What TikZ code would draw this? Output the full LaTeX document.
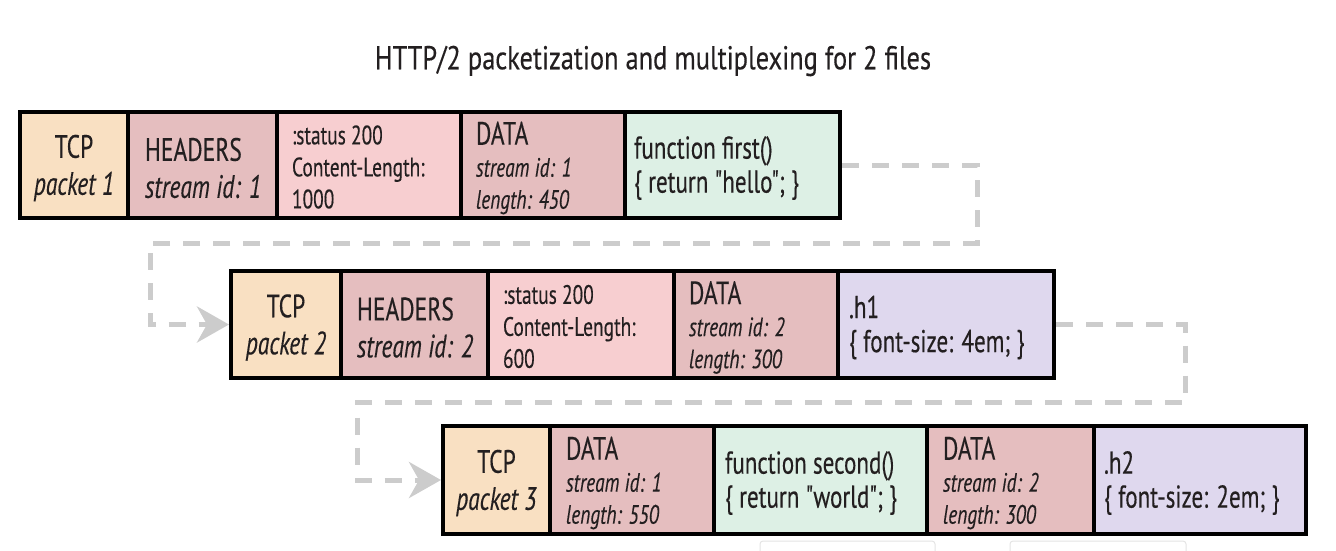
\documentclass[tikz,border=0pt]{standalone}
\usepackage{fontspec}
\setmainfont{PT Sans}[FakeStretch=0.8, FakeBold=0.3, Ligatures=TeXOff]
\newfontfamily\cellfam{PT Sans}[FakeStretch=0.73, FakeBold=0.3, Ligatures=TeXOff]
\usetikzlibrary{arrows.meta}
\definecolor{tcpc}{HTML}{F9E0C2}
\definecolor{hdrc}{HTML}{E5BEBF}
\definecolor{statc}{HTML}{F7CED0}
\definecolor{jsc}{HTML}{DDF0E5}
\definecolor{cssc}{HTML}{DFD8EE}
\definecolor{connc}{HTML}{CCCCCC}
\definecolor{txtc}{HTML}{231F20}
\definecolor{faintc}{HTML}{E4E4E4}
\newcommand\bigf{\cellfam\fontsize{32.3}{37}\selectfont}
\newcommand\smf{\cellfam\fontsize{26.6}{32}\selectfont}
\newcommand\midf{\cellfam\fontsize{31.6}{34}\selectfont}
\begin{document}
\begin{tikzpicture}[x=1pt,y=-1pt,
  rowbox/.style={fill=black, inner sep=0pt, outer sep=0pt, anchor=north west},
  cellbox/.style={inner sep=0pt, outer sep=0pt, anchor=north west, minimum height=102pt},
  lbl/.style={inner sep=0pt, outer sep=0pt, text=txtc, anchor=west, align=left},
  clbl/.style={inner sep=0pt, outer sep=0pt, text=txtc, align=center, font=\bigf},
  conn/.style={draw=connc, line width=5pt, dash pattern=on 17pt off 13pt,
    -{Stealth[length=32pt,width=36pt,inset=10pt]}},
  faint/.style={draw=faintc, line width=1pt, rounded corners=3pt}]
\useasboundingbox (0,0) rectangle (1336,550);

\node[text=txtc] (title) at (653,61) {\fontsize{33}{38}\selectfont HTTP/2 packetization and multiplexing for 2 files};

\coordinate (k1a) at (977,243);
\coordinate (k1b) at (150,243);
\coordinate (k2a) at (1185,402);
\coordinate (k2b) at (357,402);

% Row 1
\node[rowbox, minimum width=824pt, minimum height=110pt] (r1) at (18,110) {};
\node[cellbox, fill=tcpc, minimum width=104pt] (a1) at (22,114) {};
\node[cellbox, fill=hdrc, minimum width=145pt] (a2) at (130,114) {};
\node[cellbox, fill=statc, minimum width=180pt] (a3) at (279,114) {};
\node[cellbox, fill=hdrc, minimum width=160pt] (a4) at (463,114) {};
\node[cellbox, fill=jsc, minimum width=211pt] (a5) at (627,114) {};
\node[clbl] (a1t) at ([yshift=-3pt]a1.center) {TCP\\\textit{packet 1}};
\node[lbl, font=\bigf] (a2t) at ([xshift=15pt,yshift=-3pt]a2.west) {HEADERS\\\textit{stream id: 1}};
\node[lbl, font=\smf] (a3t) at ([xshift=13pt,yshift=-2pt]a3.west) {:status 200\\Content-Length:\\1000};
\node[lbl, font=\smf] (a4t) at ([xshift=13pt,yshift=-3pt]a4.west) {{\bigf DATA}\\\textit{stream id: 1}\\\textit{length: 450}};
\node[lbl, font=\midf] (a5t) at ([xshift=7pt,yshift=-3pt]a5.west) {function first()\\\{ return "hello"; \}};

% Row 2
\node[rowbox, minimum width=827pt, minimum height=111pt] (r2) at (229,269) {};
\node[cellbox, fill=tcpc, minimum width=106pt, minimum height=103pt] (b1) at (233,273) {};
\node[cellbox, fill=hdrc, minimum width=143pt, minimum height=103pt] (b2) at (343,273) {};
\node[cellbox, fill=statc, minimum width=182pt, minimum height=103pt] (b3) at (490,273) {};
\node[cellbox, fill=hdrc, minimum width=160pt, minimum height=103pt] (b4) at (676,273) {};
\node[cellbox, fill=cssc, minimum width=212pt, minimum height=103pt] (b5) at (840,273) {};
\node[clbl] (b1t) at ([yshift=-3pt]b1.center) {TCP\\\textit{packet 2}};
\node[lbl, font=\bigf] (b2t) at ([xshift=14pt,yshift=-3pt]b2.west) {HEADERS\\\textit{stream id: 2}};
\node[lbl, font=\smf] (b3t) at ([xshift=13pt,yshift=-2pt]b3.west) {:status 200\\Content-Length:\\600};
\node[lbl, font=\smf] (b4t) at ([xshift=13pt,yshift=-3pt]b4.west) {{\bigf DATA}\\\textit{stream id: 2}\\\textit{length: 300}};
\node[lbl, font=\midf] (b5t) at ([xshift=9pt,yshift=-3pt]b5.west) {.h1\\\{ font-size: 4em; \}};

% Row 3
\node[rowbox, minimum width=867pt, minimum height=112pt] (r3) at (441,424) {};
\node[cellbox, fill=tcpc, minimum width=103pt, minimum height=104pt] (c1) at (445,428) {};
\node[cellbox, fill=hdrc, minimum width=160pt, minimum height=104pt] (c2) at (552,428) {};
\node[cellbox, fill=jsc, minimum width=209pt, minimum height=104pt] (c3) at (716,428) {};
\node[cellbox, fill=hdrc, minimum width=163pt, minimum height=104pt] (c4) at (929,428) {};
\node[cellbox, fill=cssc, minimum width=208pt, minimum height=104pt] (c5) at (1096,428) {};
\node[clbl] (c1t) at ([yshift=-3pt]c1.center) {TCP\\\textit{packet 3}};
\node[lbl, font=\smf] (c2t) at ([xshift=14pt,yshift=-3pt]c2.west) {{\bigf DATA}\\\textit{stream id: 1}\\\textit{length: 550}};
\node[lbl, font=\midf] (c3t) at ([xshift=9pt,yshift=-3pt]c3.west) {function second()\\\{ return "world"; \}};
\node[lbl, font=\smf] (c4t) at ([xshift=14pt,yshift=-3pt]c4.west) {{\bigf DATA}\\\textit{stream id: 2}\\\textit{length: 300}};
\node[lbl, font=\midf] (c5t) at ([xshift=8pt,yshift=-3pt]c5.west) {.h2\\\{ font-size: 2em; \}};

% connectors
\draw[conn] (r1.east) -| (k1a) -- (k1b) |- (r2.west);
\draw[conn] (r2.east) -| (k2a) -- (k2b) |- (r3.west);

% faint boxes at the bottom edge
\draw[faint] (760,552) -- (760,541) -- (935,541) -- (935,552);
\draw[faint] (1010,552) -- (1010,541) -- (1186,541) -- (1186,552);
\end{tikzpicture}
\end{document}
